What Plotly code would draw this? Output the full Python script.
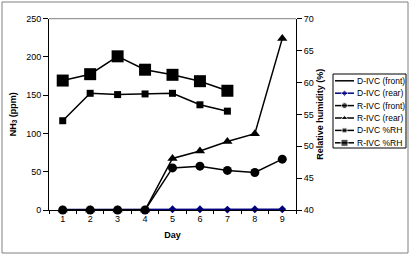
import plotly.graph_objects as go

days = [1, 2, 3, 4, 5, 6, 7, 8, 9]
d_ivc_front = [0, 0, 0, 0, 0, 0, 0, 0, 0]
d_ivc_rear = [0.5, 0.5, 0.5, 0.5, 1, 1, 0.5, 1, 1]
r_ivc_front = [0, 0, 0, 0, 55, 57.3, 51.7, 49, 66.4]
r_ivc_rear = [0, 0, 0, 0, 67.3, 77.2, 89.4, 99.8, 224]
rh_days = [1, 2, 3, 4, 5, 6, 7]
d_ivc_rh = [54.0, 58.3, 58.1, 58.2, 58.3, 56.5, 55.5]
r_ivc_rh = [60.3, 61.3, 64.1, 62.0, 61.2, 60.2, 58.7]

series_names = ["D-IVC (front)", "D-IVC (rear)", "R-IVC (front)", "R-IVC (rear)",
                "D-IVC %RH", "R-IVC %RH"]

W, H = 411, 256
L, R, T, B = 49, 296, 18.7, 210
FONT = "Liberation Sans, Arial, sans-serif"
BLUE = "#00007f"

styles = [
    dict(color="black", symbol=None, size=0),
    dict(color=BLUE, symbol="diamond", size=6),
    dict(color="black", symbol="circle", size=9),
    dict(color="black", symbol="triangle-up", size=9),
    dict(color="black", symbol="square", size=7),
    dict(color="black", symbol="square", size=12),
]
legend_styles = [
    dict(color="black", symbol="circle", size=0),
    dict(color=BLUE, symbol="diamond", size=5),
    dict(color="black", symbol="circle", size=6),
    dict(color="black", symbol="triangle-up", size=6),
    dict(color="black", symbol="square", size=5),
    dict(color="black", symbol="square", size=7),
]
xs = [days, days, days, days, rh_days, rh_days]
ys = [d_ivc_front, d_ivc_rear, r_ivc_front, r_ivc_rear, d_ivc_rh, r_ivc_rh]
yax = ["y", "y", "y", "y", "y2", "y2"]

fig = go.Figure()
lw = 1.5
for name, st, x, y, ya in zip(series_names, styles, xs, ys, yax):
    if st["symbol"] is None:
        fig.add_trace(go.Scatter(x=x, y=y, name=name, mode="lines", yaxis=ya,
                                 line=dict(color=st["color"], width=lw), showlegend=False,
                                 cliponaxis=False))
    else:
        fig.add_trace(go.Scatter(x=x, y=y, name=name, mode="lines+markers", yaxis=ya,
                                 line=dict(color=st["color"], width=lw),
                                 marker=dict(symbol=st["symbol"], size=st["size"],
                                             color=st["color"]),
                                 showlegend=False, cliponaxis=False))

# custom legend drawn on its own small axes (units: pixels inside the legend box)
LG_X0, LG_X1, LG_Y0, LG_Y1 = 333, 406, 74, 148
annotations = []
for i, (name, st) in enumerate(zip(series_names, legend_styles)):
    cy = 6.8 + 12.4 * i
    fig.add_trace(go.Scatter(x=[2, 11.5, 21], y=[cy, cy, cy], mode="lines+markers",
                             xaxis="x3", yaxis="y3", showlegend=False, hoverinfo="skip",
                             line=dict(color=st["color"], width=lw),
                             marker=dict(symbol=st["symbol"], color=st["color"],
                                         size=[0, st["size"], 0])))
    annotations.append(dict(x=(LG_X0 + 22.0) / W, y=1 - (LG_Y0 + cy) / H,
                            xref="paper", yref="paper", text=name,
                            showarrow=False, xanchor="left", yanchor="middle",
                            font=dict(family=FONT, size=8.5, color="black")))

tickfont = dict(family=FONT, size=9, color="black")
titlefont = dict(family=FONT, size=9, color="black", weight="bold")

fig.update_layout(
    width=W, height=H,
    margin=dict(l=0, r=0, t=0, b=0, autoexpand=False),
    showlegend=False,
    paper_bgcolor="white", plot_bgcolor="white",
    font=dict(family=FONT, size=9, color="black"),
    xaxis=dict(domain=[L / W, R / W], range=[0.5, 9.5], tickvals=days,
               ticks="", showline=True, linecolor="black", linewidth=1,
               showgrid=False, zeroline=False, tickfont=tickfont,
               minor=dict(tick0=0.5, dtick=1, ticks="outside", ticklen=3,
                          tickcolor="black", showgrid=False),
               title=dict(text="Day", font=titlefont, standoff=8)),
    yaxis=dict(domain=[(H - B) / H, (H - T) / H], range=[0, 250], dtick=50,
               ticks="outside", ticklen=5, tickcolor="black",
               showline=True, linecolor="black", linewidth=1,
               showgrid=False, zeroline=False, tickfont=tickfont,
               title=dict(text="NH<sub>3</sub> (ppm)", font=titlefont, standoff=8)),
    yaxis2=dict(overlaying="y", side="right", anchor="x", range=[40, 70], dtick=5,
                ticks="outside", ticklen=5, tickcolor="black",
                showline=True, linecolor="black", linewidth=1,
                showgrid=False, zeroline=False, tickfont=tickfont,
                title=dict(text="Relative humidity (%)", font=titlefont, standoff=3)),
    xaxis3=dict(domain=[LG_X0 / W, LG_X1 / W], range=[0, LG_X1 - LG_X0], visible=False,
                anchor="y3", fixedrange=True),
    yaxis3=dict(domain=[1 - LG_Y1 / H, 1 - LG_Y0 / H], range=[LG_Y1 - LG_Y0, 0],
                visible=False, anchor="x3", fixedrange=True),
    annotations=annotations,
    shapes=[
        dict(type="rect", xref="paper", yref="paper",
             x0=2 / W, x1=408 / W, y0=1 - 253 / H, y1=1 - 2 / H,
             line=dict(color="#808080", width=1), layer="below"),
        dict(type="line", xref="paper", yref="paper",
             x0=L / W, x1=R / W, y0=1 - T / H, y1=1 - T / H,
             line=dict(color="#808080", width=1)),
        dict(type="rect", xref="paper", yref="paper",
             x0=LG_X0 / W, x1=LG_X1 / W, y0=1 - LG_Y1 / H, y1=1 - LG_Y0 / H,
             line=dict(color="black", width=1), fillcolor="white", layer="below"),
    ],
)

fig.write_html("out.html", config={"displayModeBar": False},
               post_script="document.body.style.margin='0px';"
                           "document.body.style.overflow='hidden';")
